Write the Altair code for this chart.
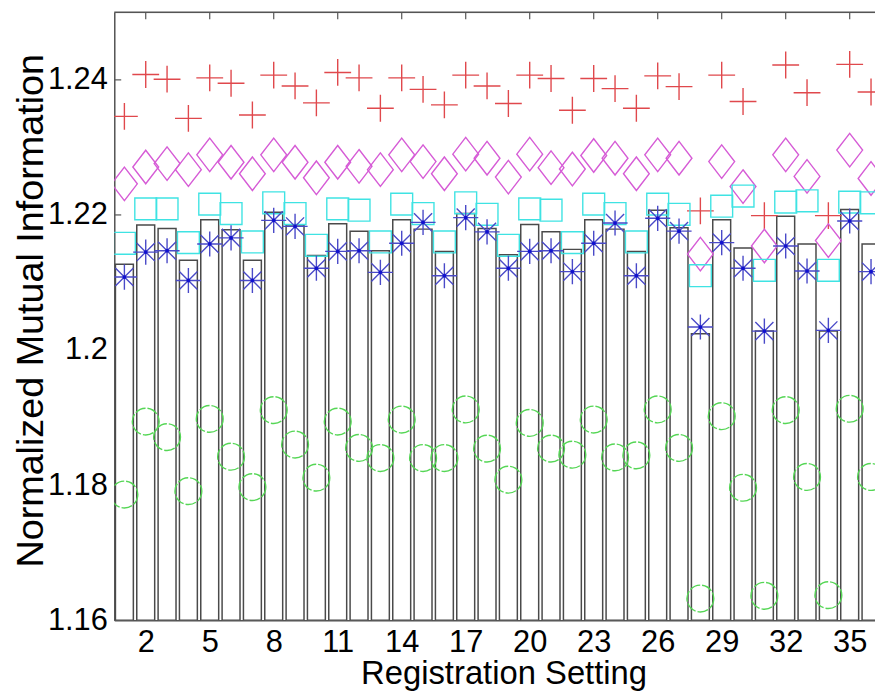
import altair as alt
import pandas as pd

# ---------------- data ----------------
settings = list(range(1, 37))

bar_nmi = [1.2127, 1.2185, 1.2180, 1.2133, 1.2193, 1.2178, 1.2133, 1.2204, 1.2185, 1.2140, 1.2187, 1.2176,
           1.2147, 1.2193, 1.2179, 1.2146, 1.2202, 1.2180, 1.2141, 1.2186, 1.2175, 1.2149, 1.2193, 1.2179,
           1.2146, 1.2207, 1.2181, 1.2024, 1.2193, 1.2151, 1.2028, 1.2198, 1.2157, 1.2028, 1.2208, 1.2157]

star_nmi = [1.2108, 1.2145, 1.2147, 1.2103, 1.2157, 1.2166, 1.2103, 1.2192, 1.2183, 1.2121, 1.2146, 1.2147,
            1.2115, 1.2158, 1.2189, 1.2110, 1.2196, 1.2175, 1.2121, 1.2146, 1.2147, 1.2116, 1.2158, 1.2188,
            1.2110, 1.2195, 1.2176, 1.2034, 1.2159, 1.2121, 1.2028, 1.2154, 1.2117, 1.2029, 1.2191, 1.2116]

square_nmi = [1.2158, 1.2209, 1.2209, 1.2159, 1.2216, 1.2202, 1.2160, 1.2218, 1.2202, 1.2155, 1.2209, 1.2207,
              1.2160, 1.2216, 1.2202, 1.2160, 1.2218, 1.2201, 1.2155, 1.2209, 1.2207, 1.2159, 1.2216, 1.2202,
              1.2160, 1.2216, 1.2201, 1.2110, 1.2213, 1.2228, 1.2118, 1.2219, 1.2221, 1.2118, 1.2219, 1.2218]

diamond_nmi = [1.2246, 1.2271, 1.2276, 1.2267, 1.2289, 1.2278, 1.2261, 1.2289, 1.2278, 1.2255, 1.2278, 1.2272,
               1.2267, 1.2289, 1.2279, 1.2261, 1.2290, 1.2284, 1.2256, 1.2290, 1.2270, 1.2268, 1.2288, 1.2284,
               1.2261, 1.2289, 1.2284, 1.2142, 1.2279, 1.2242, 1.2154, 1.2289, 1.2257, 1.2162, 1.2296, 1.2254]

plus_nmi = [1.2346, 1.2408, 1.2401, 1.2343, 1.2403, 1.2395, 1.2348, 1.2407, 1.2391, 1.2366, 1.2411, 1.2403,
            1.2358, 1.2403, 1.2386, 1.2363, 1.2407, 1.2391, 1.2365, 1.2407, 1.2402, 1.2355, 1.2402, 1.2387,
            1.2358, 1.2406, 1.2390, 1.2206, 1.2407, 1.2368, 1.2199, 1.2422, 1.2381, 1.2199, 1.2423, 1.2382]

circle_nmi = [1.1786, 1.1894, 1.1871, 1.1791, 1.1898, 1.1842, 1.1797, 1.1911, 1.1860, 1.1811, 1.1894, 1.1855,
              1.1840, 1.1897, 1.1840, 1.1840, 1.1912, 1.1854, 1.1808, 1.1892, 1.1854, 1.1845, 1.1897, 1.1841,
              1.1844, 1.1912, 1.1855, 1.1632, 1.1902, 1.1796, 1.1636, 1.1911, 1.1812, 1.1637, 1.1913, 1.1812]

x_ticks = [2, 5, 8, 11, 14, 17, 20, 23, 26, 29, 32, 35]
y_ticks = [1.16, 1.18, 1.2, 1.22, 1.24]

df = pd.DataFrame({
    "s": settings, "bar": bar_nmi, "star": star_nmi, "square": square_nmi,
    "diamond": diamond_nmi, "plus": plus_nmi, "circle": circle_nmi,
})
xt = pd.DataFrame({"t": x_ticks})
yt = pd.DataFrame({"t": y_ticks})

# ---------------- layout / style ----------------
W, H = 766, 612
UNIT = 21.48
FONT = "Liberation Sans"
AX = "#555555"

xs = alt.Scale(domain=[0.525, 0.525 + W / UNIT], nice=False, zero=False)
ys = alt.Scale(domain=[1.16, 1.25], nice=False, zero=False)

x_axis = alt.Axis(values=x_ticks, title="Registration Setting", ticks=False, tickSize=0,
                  grid=False, domainColor=AX, domainWidth=1.5, labelFontSize=31,
                  labelColor="black", labelPadding=8, labelFont=FONT,
                  titleFont=FONT, titleFontSize=33, titleFontWeight="normal",
                  titleColor="black", titleX=392, titleY=64, titleBaseline="alphabetic")
y_axis = alt.Axis(values=y_ticks, format=".2~f", title="Normalized Mutual Information",
                  ticks=False, tickSize=0, grid=False, domainColor=AX, domainWidth=1.5,
                  labelFontSize=31, labelColor="black", labelPadding=7, labelFont=FONT,
                  titleFont=FONT, titleFontSize=38, titleFontWeight="normal",
                  titleColor="black", titleX=-72, titleY=300, titleBaseline="alphabetic",
                  titleAngle=-90)


def X(field):
    return alt.X(field, type="quantitative", scale=xs, axis=x_axis)


def Y(field):
    return alt.Y(field, type="quantitative", scale=ys, axis=y_axis)


one = pd.DataFrame({"a": [0]})

top_border = alt.Chart(one).mark_rule(color=AX, strokeWidth=1.5).encode(
    x=alt.value(0), x2=alt.value(W), y=alt.value(0))
top_ticks = alt.Chart(xt).mark_rule(color=AX, strokeWidth=1.2).encode(
    x=X("t"), y=alt.value(0), y2=alt.value(7))
left_ticks = alt.Chart(yt).mark_rule(color=AX, strokeWidth=1.2).encode(
    y=Y("t"), x=alt.value(0), x2=alt.value(7))

bars = alt.Chart(df).transform_calculate(
    x0="datum.s - 0.42", x1="datum.s + 0.42", base="1.16"
).mark_bar(fill="white", stroke="#4a4a4a", strokeWidth=1.5, clip=True).encode(
    x=X("x0"), x2="x1:Q", y=Y("bar"), y2="base:Q")

PLUS = "M-1,0L1,0M0,-1L0,1"
DIAMOND = "M0,-1.3L1,0L0,1.3L-1,0Z"
STAR = "M-1,0L1,0M0,-1L0,1M-0.72,-0.72L0.72,0.72M-0.72,0.72L0.72,-0.72"


def markers(field, shape, size, color, dash=None):
    kw = dict(shape=shape, size=size, filled=False, stroke=color, strokeWidth=1.4,
              opacity=1, clip=True)
    if dash:
        kw["strokeDash"] = dash
    return alt.Chart(df).mark_point(**kw).encode(x=X("s"), y=Y(field))


plus_l = markers("plus", PLUS, 729, "#e0484c")
diamond_l = markers("diamond", DIAMOND, 676, "#d65cd6")
square_l = markers("square", "square", 484, "#3fe3e3")
star_l = markers("star", STAR, 640, "#4a4ac8")
star_dot = alt.Chart(df).mark_point(shape="circle", size=14, filled=True, color="#1010d0",
                                    opacity=1, clip=True).encode(x=X("s"), y=Y("star"))
circle_l = markers("circle", "circle", 729, "#55d655", dash=[11, 2])

chart = alt.layer(
    top_border, top_ticks, left_ticks, bars,
    plus_l, diamond_l, square_l, star_l, star_dot, circle_l
).properties(
    width=W, height=H,
    autosize=alt.AutoSizeParams(type="none"),
    padding={"left": 107, "top": 2, "right": 0, "bottom": 71},
).configure_view(stroke=None).configure(font=FONT, background="white")

chart.save("out.html", embed_options={"renderer": "svg", "actions": False})
